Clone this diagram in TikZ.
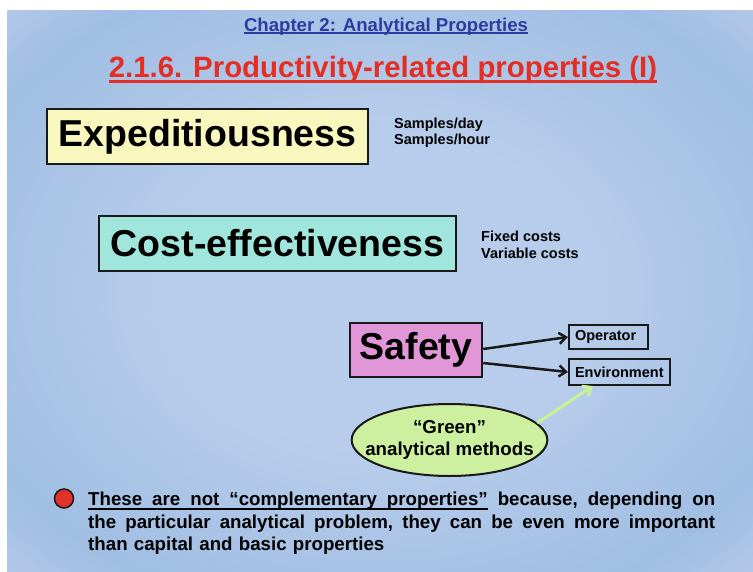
\documentclass[tikz,border=0pt]{standalone}
\usepackage{fontspec}
\setmainfont{Liberation Sans}
\usetikzlibrary{arrows.meta,calc,shapes.geometric}
\definecolor{bgA}{RGB}{184,205,235}
\definecolor{bgB}{RGB}{160,190,227}
\definecolor{bgC}{RGB}{214,218,241}
\definecolor{bgD}{RGB}{245,230,247}
\definecolor{chapblue}{RGB}{45,60,160}
\definecolor{titlered}{RGB}{228,45,35}
\definecolor{expfill}{RGB}{248,248,190}
\definecolor{costfill}{RGB}{160,230,220}
\definecolor{safefill}{RGB}{225,150,215}
\definecolor{greenfill}{RGB}{205,240,160}
\definecolor{greenarrow}{RGB}{200,242,150}
\definecolor{bulletred}{RGB}{225,50,40}
\definecolor{edge}{RGB}{25,25,25}
\pgfdeclareradialshading{bgshade}{\pgfpoint{0bp}{0bp}}{color(0bp)=(bgA); color(14bp)=(bgA); color(30bp)=(bgB); color(46bp)=(bgC); color(62bp)=(bgD); color(72bp)=(bgD)}
\newcommand{\fs}[2]{\fontsize{#1}{#2}\selectfont}
\newdimen\uld \newdimen\ult
\newcommand{\ulw}[1]{\setbox0\hbox{#1}\rlap{\vrule height \dimexpr\ult-\uld\relax depth \uld width \wd0}\box0}
\newcommand{\ulgap}{\leaders\hrule height \dimexpr\ult-\uld\relax depth \uld\hskip 0.278em plus 1fil}
\newcommand{\gap}{\hskip 0.278em plus 1fil}
\tikzset{
  bigbox/.style={draw=edge, line width=2.5pt, inner sep=0pt, font=\bfseries\fs{37.5}{42}},
  smallbox/.style={draw=edge, line width=2pt, inner xsep=6pt, inner ysep=0pt, align=left, font=\bfseries\fs{14.5}{16}, anchor=center},
  note/.style={anchor=west, align=left, inner sep=0pt, font=\bfseries\fs{14.5}{16.5}},
  blackarrow/.style={draw=edge, line width=2.5pt, -{Straight Barb[length=7pt,width=11pt]}},
}
\begin{document}
\begin{tikzpicture}[x=1pt,y=-1pt]
\useasboundingbox (0,0) rectangle (753,571);
\shade[shading=bgshade] (7,10) rectangle (753,571);

\node[anchor=base, inner sep=0pt, text=chapblue, font=\bfseries\fs{18.6}{22}] (chap) at (386,31)
  {\uld=3.4pt\ult=2.2pt\ulw{Chapter 2: Analytical Properties}};
\node[anchor=base, inner sep=0pt, text=titlered, font=\bfseries\fs{29.4}{34}] (title) at (383,77)
  {\uld=6.3pt\ult=3.5pt\ulw{2.1.6. Productivity-related properties (I)}};

\node[bigbox, fill=expfill, minimum width=321pt, minimum height=55pt] (exp) at (207.5,136.5) {Expeditiousness};
\node[note] (expnote) at (394,132.5) {Samples/day\\Samples/hour};

\node[bigbox, fill=costfill, minimum width=357pt, minimum height=55pt] (cost) at (277.5,243.5) {Cost-effectiveness};
\node[note] (costnote) at (481,245) {Fixed costs\\Variable costs};

\node[bigbox, fill=safefill, minimum width=132pt, minimum height=54pt] (safety) at (416,350) {Safety};
\node[smallbox, text width=67pt, minimum height=24pt] (operator) at (608.5,337) {Operator};
\node[smallbox, text width=89pt, minimum height=26pt] (environment) at (619.5,372) {Environment};

\draw[blackarrow] ([yshift=1pt]safety.east) -- (operator.west);
\draw[blackarrow] ([yshift=-13pt]safety.east) -- (environment.west);

\node[ellipse, draw=edge, line width=2pt, fill=greenfill, minimum height=72pt, inner xsep=-15pt, inner ysep=0pt, align=center, font=\bfseries\fs{18.7}{22}] (green) at (449.5,440) {“Green”\\analytical methods};
\draw[greenarrow, line width=3pt, -{Straight Barb[length=7pt,width=12pt]}] (green.11) -- ($(environment.south west)!0.24!(environment.south east)$);

\node[circle, draw=edge, line width=1.5pt, fill=bulletred, minimum size=19pt, inner sep=0pt] (bullet) at (64,498.5) {};
\node[anchor=north west, inner sep=0pt, text width=627pt, align=left, font=\bfseries\fs{18.7}{22.5}] (para) at (88,492)
  {\uld=4.7pt\ult=2pt%
   \leavevmode\hbox to 627pt{\ulw{These}\ulgap\ulw{are}\ulgap\ulw{not}\ulgap\ulw{“complementary}\ulgap\ulw{properties”}\gap because,\gap depending\gap on}\\
   \leavevmode\hbox to 627pt{the\gap particular\gap analytical\gap problem,\gap they\gap can\gap be\gap even\gap more\gap important}\\
   than capital and basic properties};
\end{tikzpicture}
\end{document}
